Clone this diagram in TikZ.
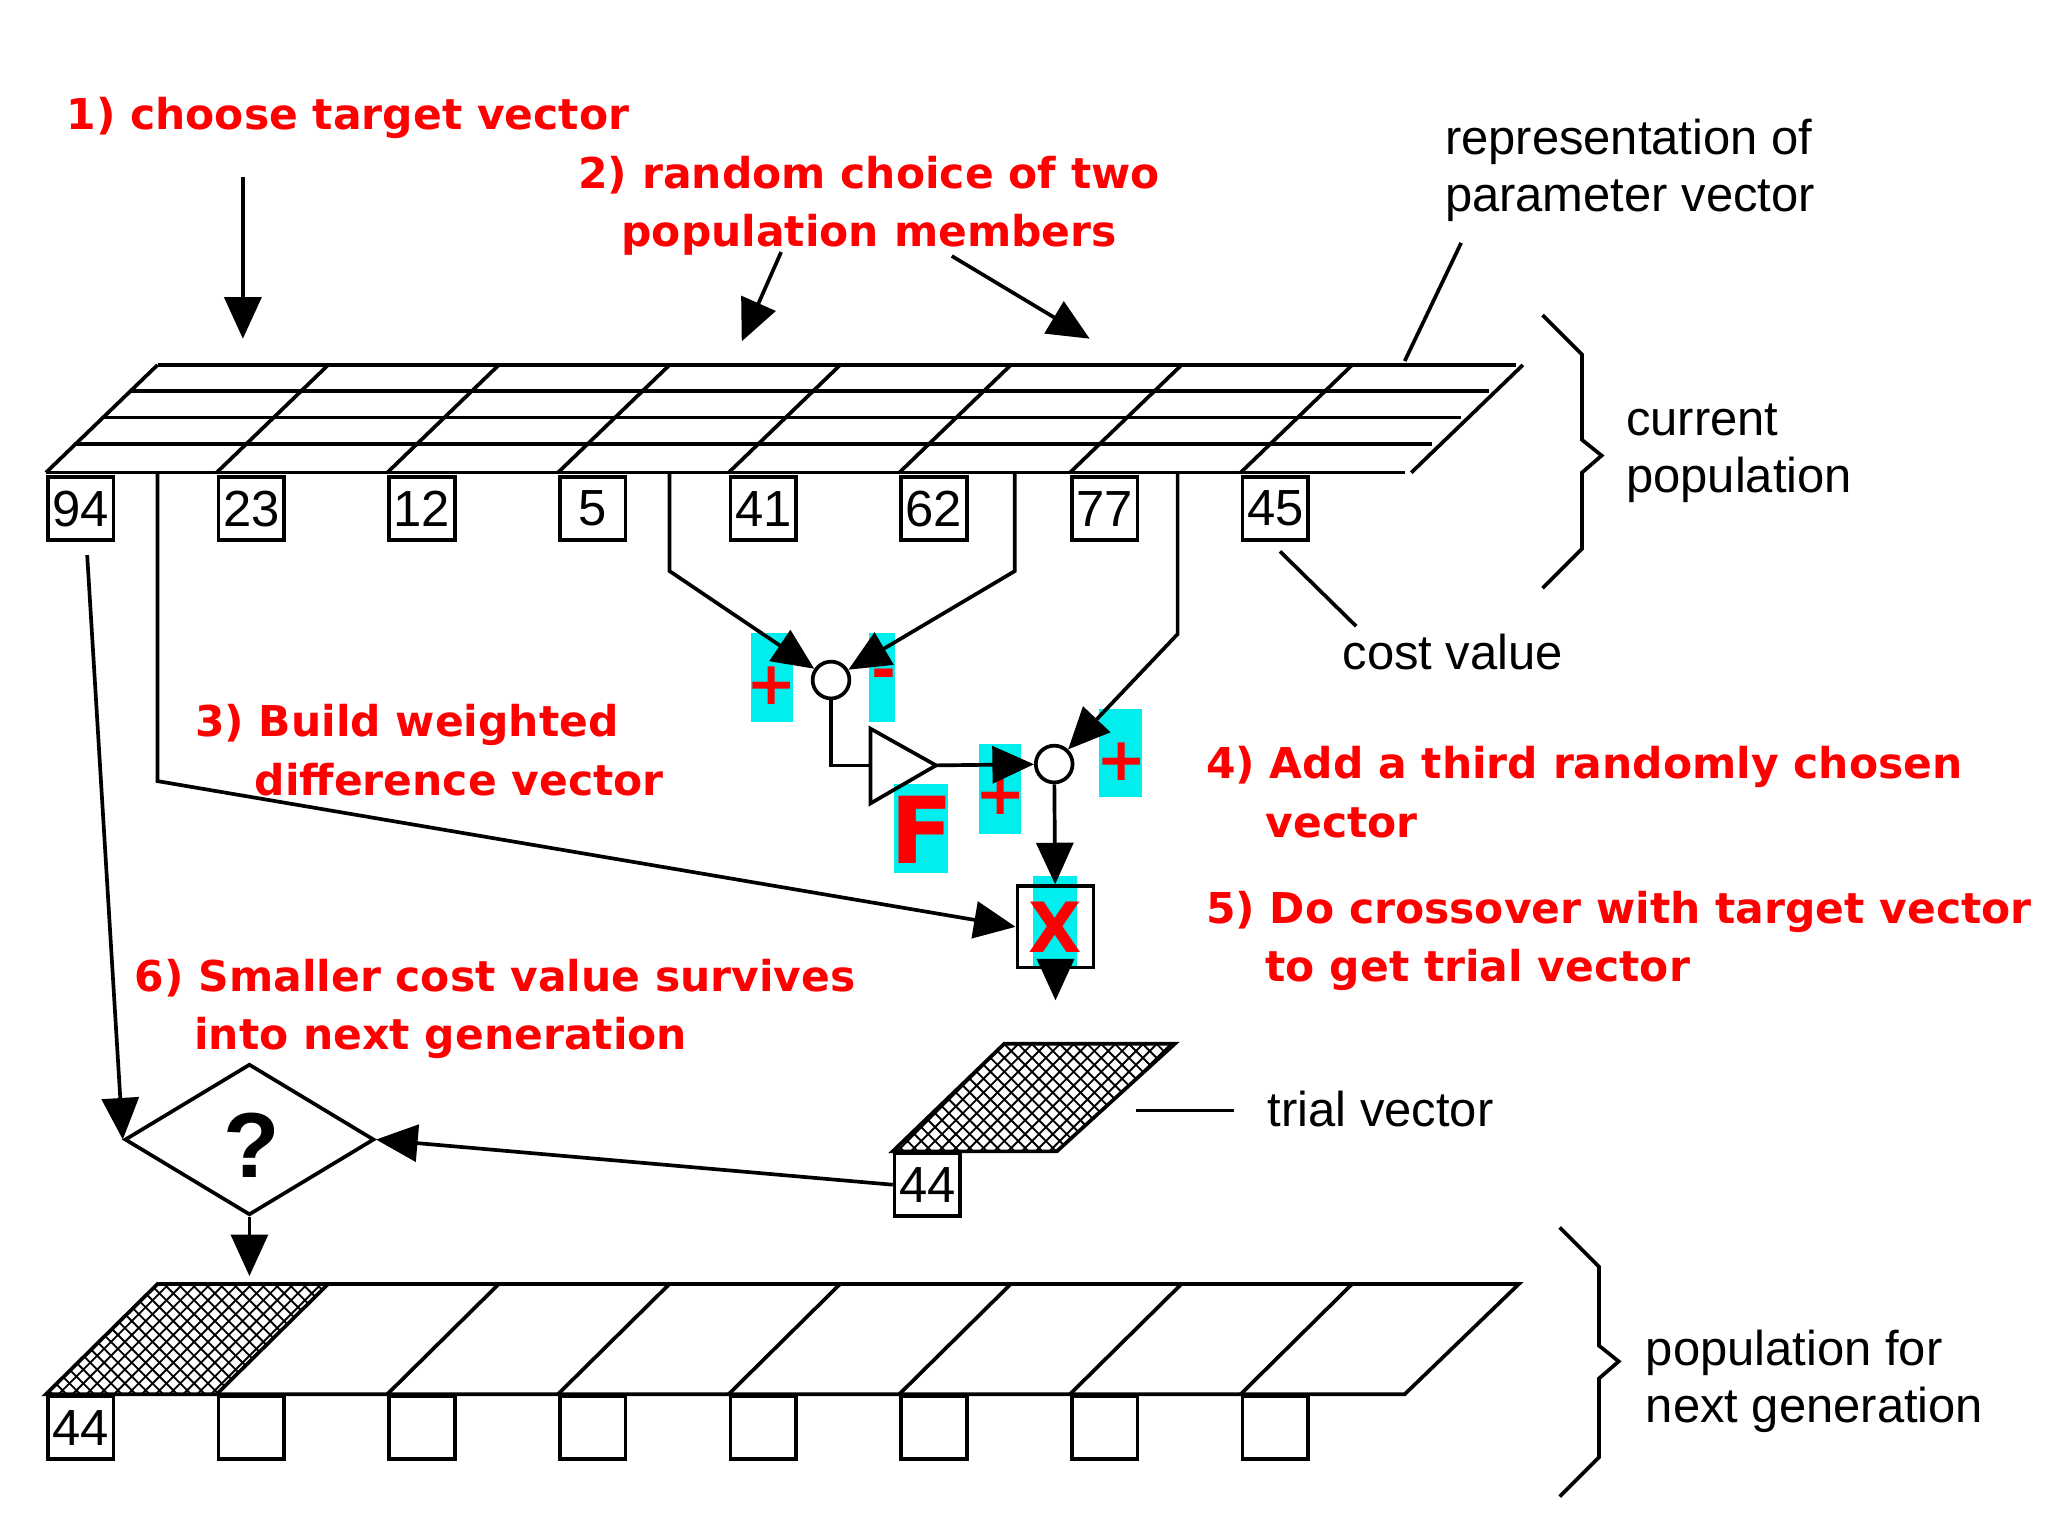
\documentclass[tikz,border=0pt]{standalone}
\usepackage{fontspec}
\setmainfont{Liberation Sans}
\newfontfamily\redfont{DejaVu Sans}
\usetikzlibrary{arrows.meta,patterns,shapes.geometric}
\definecolor{aqua}{RGB}{0,238,238}
\tikzset{
  ln/.style={line width=0.8pt},
  arr/.style={ln,-{Triangle[length=9pt,width=8pt]}},
  cbox/.style={draw,ln,minimum width=0.5cm,minimum height=0.48cm,inner sep=0pt,anchor=north west,font=\fontsize{11}{11}\selectfont},
  step lbl/.style={text=red,inner sep=0pt,font=\redfont\bfseries\fontsize{9.2}{12.6}\selectfont,align=left},
  blk/.style={inner sep=0pt,font=\fontsize{10.6}{12.3}\selectfont,align=left},
  hi/.style={fill=aqua},
  sym/.style={text=red,font=\redfont\bfseries\fontsize{13}{13}\selectfont}
}
\begin{document}
\begin{tikzpicture}[x=0.01cm,y=-0.01cm]
\useasboundingbox (0,0) rectangle (1560,1170);
% current population
\foreach \y/\d in {278/85,298/64,318/43,338/21,360/0}
  \draw[ln] (35+\d,\y) -- (1070+\d,\y);
\foreach \i in {0,...,8}
  \draw[ln] (35+130*\i,360) -- (120+130*\i,278);
\foreach [count=\i from 0] \v/\n in {94/b94,23/b23,12/b12,5/b5,41/b41,62/b62,77/b77,45/b45}
  \node[cbox] (\n) at (35+130*\i,362) {\v};
% next generation
\fill[pattern=crosshatch] (35,1062) -- (120,978) -- (250,978) -- (165,1062) -- cycle;
\draw[ln] (35,1062) -- (1070,1062) -- (1157,978) -- (120,978) -- cycle;
\foreach \i in {1,...,7}
  \draw[ln] (35+130*\i,1062) -- (120+130*\i,978);
\node[cbox] (n0) at (35,1062) {44};
\foreach \i in {1,...,7}
  \node[cbox] (n\i) at (35+130*\i,1062) {};
% trial vector
\fill[pattern=crosshatch] (680,877) -- (765,795) -- (895,795) -- (805,877) -- cycle;
\draw[ln] (680,877) -- (765,795) -- (895,795) -- (805,877) -- cycle;
\node[cbox] (t44) at (680,877) {44};
% highlights
\fill[hi] (572,482) rectangle (604,550);
\fill[hi] (662,482) rectangle (682,550);
\fill[hi] (837,540) rectangle (870,607);
\fill[hi] (746,567) rectangle (778,635);
\fill[hi] (681,597) rectangle (722,665);
\fill[hi] (787,667) rectangle (820,737);
\node[sym] at (588,522) {+};
\node[sym] at (673,518) {-};
\node[sym] at (854,580) {+};
\node[sym] at (762,606) {+};
\node[sym,font=\redfont\bfseries\fontsize{20}{20}\selectfont] at (702,632) {F};
% operators
\node[draw,ln,circle,fill=white,minimum size=0.28cm,inner sep=0pt] (c1) at (633,518) {};
\node[draw,ln,circle,fill=white,minimum size=0.28cm,inner sep=0pt] (c2) at (803,582) {};
\draw[ln] (663,555) -- (663,612) -- (713,583) -- cycle;
\coordinate (tin) at (663,583);
\coordinate (tout) at (713,583);
\node[draw,ln,minimum width=0.58cm,minimum height=0.62cm,inner sep=0pt] (xb) at (804,706) {};
\node[sym,font=\redfont\bfseries\fontsize{15}{15}\selectfont] at (804,706) {X};
\node[draw,ln,diamond,minimum width=1.9cm,minimum height=1.15cm,inner sep=0pt] (dq) at (190,868) {};
\node[font=\bfseries\fontsize{20}{20}\selectfont] at (192,872) {?};
% connectors
\draw[arr] (510,360) -- (510,435) -- (c1);
\draw[arr] (773,360) -- (773,435) -- (c1);
\draw[arr] (897,360) -- (897,483) -- (c2);
\draw[ln] (c1) -- (633,583) -- (tin);
\draw[arr] (tout) -- (c2);
\draw[arr] (c2) -- (xb);
\draw[arr] (120,360) -- (120,595) -- (xb.west);
\draw[arr] (xb.south) -- (804,762);
\draw[arr] (b94.south) ++(5,10) -- (dq.west);
\draw[arr] (t44.west) -- (dq.east);
\draw[arr] (dq.south) -- (190,972);
% annotations
\node[step lbl,anchor=west] at (50,90) {1) choose target vector};
\draw[arr] (185,135) -- (185,258);
\node[step lbl,align=center] at (662,157) {2) random choice of two\\population members};
\draw[arr] (595,192) -- (565,260);
\draw[arr] (725,195) -- (830,258);
\node[step lbl,anchor=north west] at (148,536) {3) Build weighted\\\hspace*{1.4em}difference vector};
\node[step lbl,anchor=north west] at (918,568) {4) Add a third randomly chosen\\\hspace*{1.4em}vector};
\node[step lbl,anchor=north west] at (918,678) {5) Do crossover with target vector\\\hspace*{1.4em}to get trial vector};
\node[step lbl,anchor=north west] at (102,730) {6) Smaller cost value survives\\\hspace*{1.4em}into next generation};
\node[blk,anchor=west] at (1100,130) {representation of\\parameter vector};
\draw[ln] (1113,185) -- (1070,275);
\node[blk,anchor=west] at (1238,345) {current\\population};
\draw[ln] (1175,240) -- (1205,270) -- (1205,335) -- (1220,347) -- (1205,360) -- (1205,418) -- (1175,448);
\node[blk,anchor=west] at (1022,497) {cost value};
\draw[ln] (975,420) -- (1033,477);
\node[blk,anchor=west] at (965,845) {trial vector};
\draw[ln] (865,846) -- (940,846);
\node[blk,anchor=west] at (1253,1052) {population for\\next generation};
\draw[ln] (1188,935) -- (1218,965) -- (1218,1025) -- (1233,1037) -- (1218,1050) -- (1218,1110) -- (1188,1140);
\end{tikzpicture}
\end{document}
